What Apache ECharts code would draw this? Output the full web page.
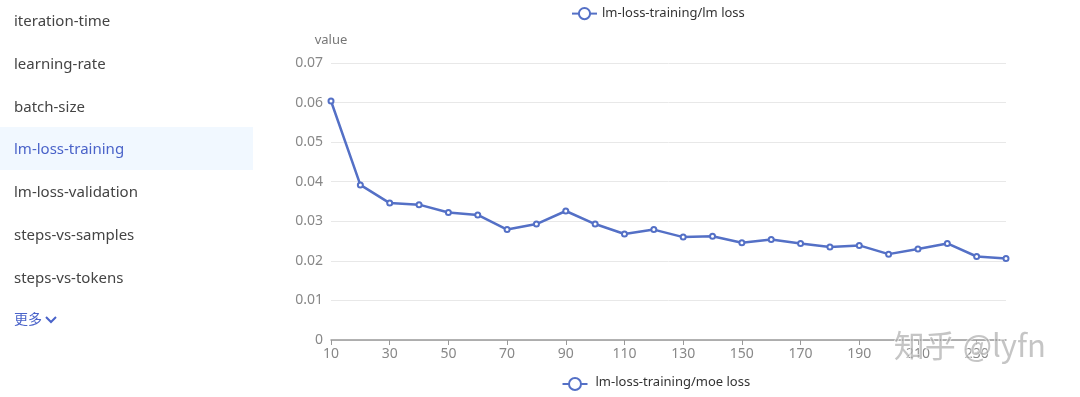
<!DOCTYPE html>
<html>
<head>
<meta charset="utf-8">
<script src="https://cdn.jsdelivr.net/npm/echarts@6/dist/echarts.min.js"></script>
<style>
  html, body { margin: 0; padding: 0; background: #fff; }
  body { width: 1080px; height: 397px; position: relative; overflow: hidden;
         font-family: "Noto Sans", "Noto Sans CJK SC", sans-serif; }
  #chart { position: absolute; left: 0; top: 0; width: 1080px; height: 397px; }
  #menu { position: absolute; left: 0; top: -1px; width: 253px; z-index: 2; }
  #menu div { height: 42.8px; line-height: 42.8px; padding-left: 14px; font-size: 15px; color: #444; }
  #menu div.on { background: #f1f8ff; color: #4a63c9; }
  #menu div.more { color: #4a63c9; font-family: "Noto Sans CJK SC", sans-serif; font-size: 14px; margin-top: -2px; }
</style>
</head>
<body>
<div id="chart"></div>
<div id="menu"></div>
<script>
// 왼쪽 메뉴
var menuItems = ['iteration-time', 'learning-rate', 'batch-size', 'lm-loss-training',
                 'lm-loss-validation', 'steps-vs-samples', 'steps-vs-tokens'];
var activeItem = 'lm-loss-training';

// 차트 데이터
var steps = ['10', '20', '30', '40', '50', '60', '70', '80', '90', '100', '110', '120',
             '130', '140', '150', '160', '170', '180', '190', '200', '210', '220', '230', '240'];
var lmLoss = [0.0604, 0.0392, 0.0346, 0.0342, 0.0322, 0.0316, 0.0279, 0.0293, 0.0326, 0.0293,
              0.0268, 0.0279, 0.0260, 0.0262, 0.0246, 0.0254, 0.0244, 0.0235, 0.0239, 0.0217,
              0.0230, 0.0244, 0.0211, 0.0206];
var seriesName = 'lm-loss-training/lm loss';
var nextLegend = 'lm-loss-training/moe loss';

var menu = document.getElementById('menu');
menuItems.forEach(function(item) {
  var d = document.createElement('div');
  d.textContent = item;
  if (item == activeItem) d.className = 'on';
  menu.appendChild(d);
});
var more = document.createElement('div');
more.className = 'more';
more.innerHTML = '更多 <svg width="12" height="8" viewBox="0 0 12 8" style="vertical-align:middle"><path d="M1 1 L6 6 L11 1" fill="none" stroke="#4a63c9" stroke-width="2"/></svg>';
menu.appendChild(more);

var color = '#5470c6';
var chart = echarts.init(document.getElementById('chart'));
chart.setOption({
  textStyle: { fontFamily: '"Noto Sans", sans-serif' },
  legend: {
    data: [seriesName],
    left: 566,
    top: 2,
    itemWidth: 25,
    itemHeight: 14,
    textStyle: { fontSize: 13, color: '#333' }
  },
  grid: { left: 331, right: 74, top: 63, bottom: 57 },
  xAxis: {
    type: 'category',
    data: steps,
    boundaryGap: false,
    axisLine: { lineStyle: { color: '#999', width: 1.5 } },
    axisTick: { lineStyle: { color: '#999' } },
    axisLabel: { interval: 1, color: '#888', fontSize: 14, margin: 7 }
  },
  yAxis: {
    type: 'value',
    name: 'value',
    min: 0,
    max: 0.07,
    interval: 0.01,
    nameGap: 16,
    nameTextStyle: { color: '#777', fontSize: 13 },
    axisLabel: { color: '#888', fontSize: 14, margin: 8 },
    splitLine: { lineStyle: { color: '#e8e8e8' } }
  },
  graphic: [
    {
      type: 'group', left: 560, top: 376,
      children: [
        { type: 'line', shape: { x1: 0, y1: 8, x2: 25, y2: 8 }, style: { stroke: color, lineWidth: 2 } },
        { type: 'circle', shape: { cx: 12.5, cy: 8, r: 6 }, style: { fill: '#fff', stroke: color, lineWidth: 2 } },
        { type: 'text', x: 33, y: 0, style: { text: nextLegend, fontSize: 13, fill: '#333', fontFamily: '"Noto Sans", sans-serif' } }
      ]
    },
    {
      type: 'text', left: 893, top: 329, z: 100,
      style: { text: '知乎 @lyfn', fontSize: 31, fill: 'rgba(150,150,150,0.55)',
               stroke: 'rgba(255,255,255,0.7)', lineWidth: 1.5,
               fontFamily: '"Noto Sans CJK SC", sans-serif' }
    }
  ],
  series: [{
    name: seriesName,
    type: 'line',
    data: lmLoss,
    symbol: 'emptyCircle',
    symbolSize: 5,
    lineStyle: { width: 2.5, color: color },
    itemStyle: { color: color, borderWidth: 1.5 }
  }]
});
</script>
</body>
</html>
